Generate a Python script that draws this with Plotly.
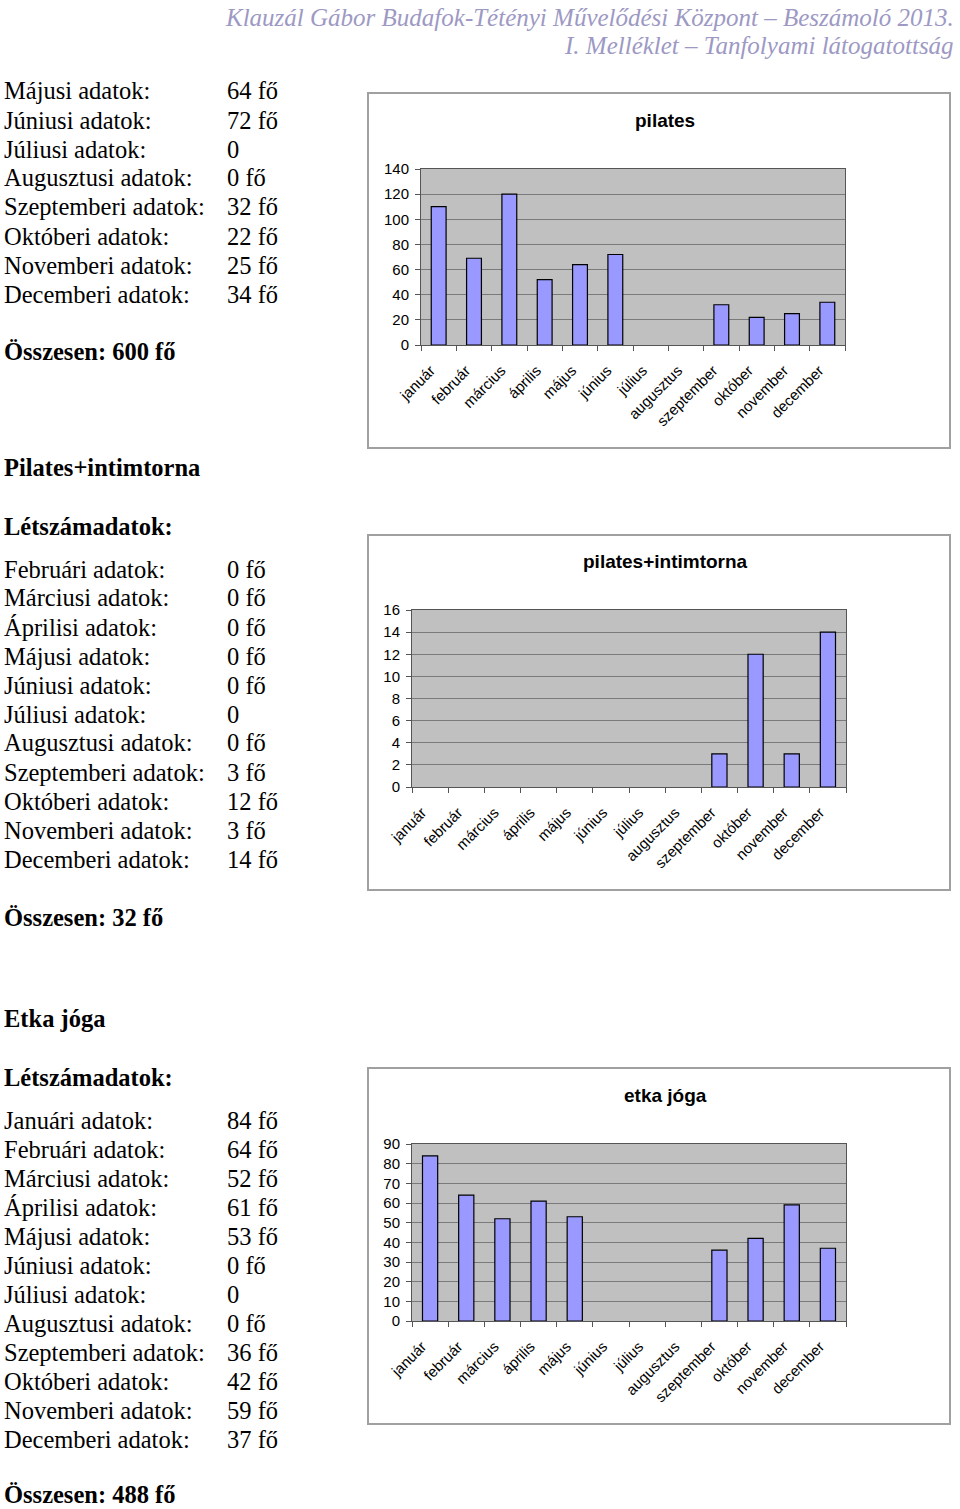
import plotly.graph_objects as go

W, H = 960, 1509

months = ["január", "február", "március", "április", "május", "június",
          "július", "augusztus", "szeptember", "október", "november", "december"]

pilates = [110, 69, 120, 52, 64, 72, 0, 0, 32, 22, 25, 34]
pilates_intim = [0, 0, 0, 0, 0, 0, 0, 0, 3, 12, 3, 14]
etka_joga = [84, 64, 52, 61, 53, 0, 0, 0, 36, 42, 59, 37]

chart_titles = ["pilates", "pilates+intimtorna", "etka jóga"]

header_lines = ["Klauzál Gábor Budafok-Tétényi Művelődési Központ – Beszámoló 2013.",
                "I. Melléklet – Tanfolyami látogatottság"]

sec1_labels = ["Májusi adatok:", "Júniusi adatok:", "Júliusi adatok:", "Augusztusi adatok:",
               "Szeptemberi adatok:", "Októberi adatok:", "Novemberi adatok:", "Decemberi adatok:"]
sec1_values = ["64 fő", "72 fő", "0", "0 fő", "32 fő", "22 fő", "25 fő", "34 fő"]
sec1_total = "Összesen: 600 fő"

sec2_title = "Pilates+intimtorna"
sec2_sub = "Létszámadatok:"
sec2_labels = ["Februári adatok:", "Márciusi adatok:", "Áprilisi adatok:", "Májusi adatok:",
               "Júniusi adatok:", "Júliusi adatok:", "Augusztusi adatok:", "Szeptemberi adatok:",
               "Októberi adatok:", "Novemberi adatok:", "Decemberi adatok:"]
sec2_values = ["0 fő", "0 fő", "0 fő", "0 fő", "0 fő", "0", "0 fő", "3 fő", "12 fő", "3 fő", "14 fő"]
sec2_total = "Összesen: 32 fő"

sec3_title = "Etka jóga"
sec3_sub = "Létszámadatok:"
sec3_labels = ["Januári adatok:", "Februári adatok:", "Márciusi adatok:", "Áprilisi adatok:",
               "Májusi adatok:", "Júniusi adatok:", "Júliusi adatok:", "Augusztusi adatok:",
               "Szeptemberi adatok:", "Októberi adatok:", "Novemberi adatok:", "Decemberi adatok:"]
sec3_values = ["84 fő", "64 fő", "52 fő", "61 fő", "53 fő", "0 fő", "0", "0 fő",
               "36 fő", "42 fő", "59 fő", "37 fő"]
sec3_total = "Összesen: 488 fő"


def px(x):
    return x / W


def py(y):
    return 1 - y / H


fig = go.Figure()

series = [pilates, pilates_intim, etka_joga]
yranges = [(140, 20), (16, 2), (90, 10)]
# plot areas (page pixels): x0, x1, y_top, y_bottom
areas = [(421, 845, 169, 345), (412, 846, 610, 787), (412, 846, 1144, 1321)]
boxes = [(368, 950, 93, 448), (368, 950, 535, 890), (368, 950, 1068, 1424)]
title_y = [120, 561, 1095]

SANS = "Liberation Sans, Arial, sans-serif"
SERIF = "Liberation Serif, Times New Roman, serif"

for i, vals in enumerate(series):
    n = "" if i == 0 else str(i + 1)
    fig.add_trace(go.Bar(x=months, y=vals, xaxis="x" + n, yaxis="y" + n,
                         marker=dict(color="#9999FF",
                                     line=dict(color="#000000",
                                               width=[1.2 if v > 0 else 0 for v in vals])),
                         showlegend=False, hoverinfo="x+y"))
    x0, x1, yt, yb = areas[i]
    ymax, dt = yranges[i]
    fig.layout["xaxis" + n] = dict(
        domain=[px(x0), px(x1)], anchor="y" + n, type="category", automargin=False,
        tickson="boundaries", ticks="outside", ticklen=5, tickcolor="#555555",
        tickangle=-45, tickfont=dict(family=SANS, size=15, color="#000000"),
        ticklabelstandoff=10, ticklabelshift=-8,
        showline=True, linecolor="#555555", linewidth=1, mirror=True,
        showgrid=False, fixedrange=True)
    fig.layout["yaxis" + n] = dict(
        domain=[py(yb), py(yt)], anchor="x" + n, range=[0, ymax], dtick=dt, automargin=False,
        ticks="outside", ticklen=5, tickcolor="#555555", ticklabelstandoff=3,
        tickfont=dict(family=SANS, size=15, color="#000000"),
        showline=True, linecolor="#555555", linewidth=1, mirror=True,
        showgrid=True, gridcolor="#7a7a7a", gridwidth=1, zeroline=False, fixedrange=True)
    bx0, bx1, by0, by1 = boxes[i]
    fig.add_shape(type="rect", xref="paper", yref="paper",
                  x0=px(bx0), x1=px(bx1), y0=py(by1), y1=py(by0),
                  line=dict(color="#a0a0a0", width=2), layer="below")
    fig.add_shape(type="rect", xref="paper", yref="paper",
                  x0=px(x0), x1=px(x1), y0=py(yb), y1=py(yt),
                  line=dict(width=0), fillcolor="#C0C0C0", layer="below")
    fig.add_annotation(x=px(665), y=py(title_y[i]), xref="paper", yref="paper",
                       text="<b>%s</b>" % chart_titles[i], showarrow=False,
                       xanchor="center", yanchor="middle",
                       font=dict(family=SANS, size=19, color="#000000"))


def text(x, y, s, bold=False, size=24.5, italic=False, color="#000000", anchor="left",
         vanchor="middle"):
    t = "<b>%s</b>" % s if bold else s
    if italic:
        t = "<i>%s</i>" % t
    fig.add_annotation(x=px(x), y=py(y), xref="paper", yref="paper", text=t,
                       showarrow=False, xanchor=anchor, yanchor=vanchor, borderpad=0,
                       font=dict(family=SERIF, size=size, color=color))


# header
text(955, 17, header_lines[0], italic=True, size=25, color="#9d99c4", anchor="right")
text(955, 46, header_lines[1], italic=True, size=25, color="#9d99c4", anchor="right")

LX, VX, STEP = 3, 226, 29

for k, (lab, val) in enumerate(zip(sec1_labels, sec1_values)):
    text(LX, 91 + k * STEP, lab)
    text(VX, 91 + k * STEP, val)
text(LX, 352, sec1_total, bold=True)

text(LX, 468, sec2_title, bold=True)
text(LX, 526, sec2_sub, bold=True)
for k, (lab, val) in enumerate(zip(sec2_labels, sec2_values)):
    text(LX, 569 + k * STEP, lab)
    text(VX, 569 + k * STEP, val)
text(LX, 917, sec2_total, bold=True)

text(LX, 1019, sec3_title, bold=True)
text(LX, 1077, sec3_sub, bold=True)
for k, (lab, val) in enumerate(zip(sec3_labels, sec3_values)):
    text(LX, 1120 + k * STEP, lab)
    text(VX, 1120 + k * STEP, val)
text(LX, 1509, sec3_total, bold=True, vanchor="bottom")

fig.update_layout(width=W, height=H, margin=dict(l=0, r=0, t=0, b=0, autoexpand=False),
                  paper_bgcolor="#ffffff", plot_bgcolor="#C0C0C0",
                  bargap=0.58, showlegend=False)

fig.write_html("out.html", config={"displayModeBar": False},
               post_script="document.body.style.margin='0px';")
